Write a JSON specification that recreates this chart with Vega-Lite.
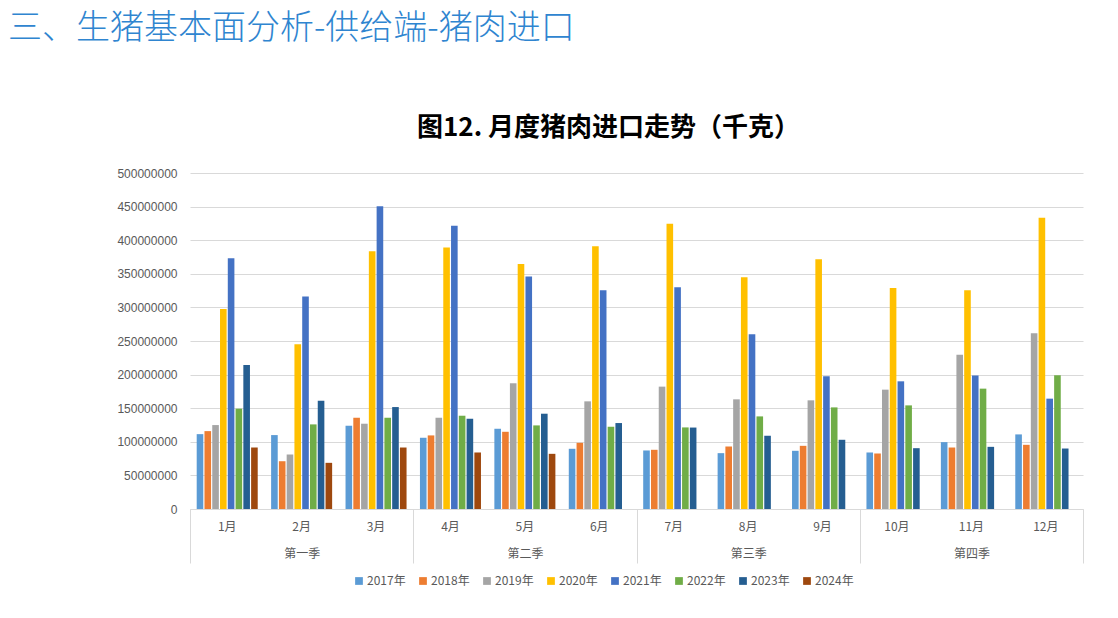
{
  "$schema": "https://vega.github.io/schema/vega-lite/v6.json",
  "width": 893,
  "height": 336,
  "autosize": {"type": "none"},
  "padding": {"left": 190, "top": 173, "right": 35, "bottom": 109},
  "background": "#ffffff",
  "title": {
    "text": "三、生猪基本面分析-供给端-猪肉进口",
    "anchor": "start",
    "frame": "group",
    "dx": -182,
    "offset": 68,
    "font": "Noto Sans CJK SC",
    "fontSize": 34,
    "fontWeight": 300,
    "color": "#2F85D0"
  },
  "config": {
    "view": {"stroke": null},
    "font": "Noto Sans CJK SC"
  },
  "data": {
    "values": [
      {"m":"1月","q":"第一季","y":"2017年","v":111400000},
      {"m":"1月","q":"第一季","y":"2018年","v":115900000},
      {"m":"1月","q":"第一季","y":"2019年","v":124900000},
      {"m":"1月","q":"第一季","y":"2020年","v":297500000},
      {"m":"1月","q":"第一季","y":"2021年","v":373100000},
      {"m":"1月","q":"第一季","y":"2022年","v":149300000},
      {"m":"1月","q":"第一季","y":"2023年","v":214400000},
      {"m":"1月","q":"第一季","y":"2024年","v":91500000},
      {"m":"2月","q":"第一季","y":"2017年","v":110000000},
      {"m":"2月","q":"第一季","y":"2018年","v":71100000},
      {"m":"2月","q":"第一季","y":"2019年","v":81100000},
      {"m":"2月","q":"第一季","y":"2020年","v":245300000},
      {"m":"2月","q":"第一季","y":"2021年","v":316400000},
      {"m":"2月","q":"第一季","y":"2022年","v":125900000},
      {"m":"2月","q":"第一季","y":"2023年","v":161200000},
      {"m":"2月","q":"第一季","y":"2024年","v":68700000},
      {"m":"3月","q":"第一季","y":"2017年","v":123900000},
      {"m":"3月","q":"第一季","y":"2018年","v":135800000},
      {"m":"3月","q":"第一季","y":"2019年","v":126900000},
      {"m":"3月","q":"第一季","y":"2020年","v":383600000},
      {"m":"3月","q":"第一季","y":"2021年","v":450700000},
      {"m":"3月","q":"第一季","y":"2022年","v":135800000},
      {"m":"3月","q":"第一季","y":"2023年","v":151700000},
      {"m":"3月","q":"第一季","y":"2024年","v":91500000},
      {"m":"4月","q":"第二季","y":"2017年","v":106000000},
      {"m":"4月","q":"第二季","y":"2018年","v":109500000},
      {"m":"4月","q":"第二季","y":"2019年","v":135800000},
      {"m":"4月","q":"第二季","y":"2020年","v":389100000},
      {"m":"4月","q":"第二季","y":"2021年","v":421400000},
      {"m":"4月","q":"第二季","y":"2022年","v":138800000},
      {"m":"4月","q":"第二季","y":"2023年","v":134300000},
      {"m":"4月","q":"第二季","y":"2024年","v":84100000},
      {"m":"5月","q":"第二季","y":"2017年","v":119400000},
      {"m":"5月","q":"第二季","y":"2018年","v":114900000},
      {"m":"5月","q":"第二季","y":"2019年","v":187100000},
      {"m":"5月","q":"第二季","y":"2020年","v":364700000},
      {"m":"5月","q":"第二季","y":"2021年","v":345800000},
      {"m":"5月","q":"第二季","y":"2022年","v":124400000},
      {"m":"5月","q":"第二季","y":"2023年","v":141800000},
      {"m":"5月","q":"第二季","y":"2024年","v":82100000},
      {"m":"6月","q":"第二季","y":"2017年","v":89600000},
      {"m":"6月","q":"第二季","y":"2018年","v":98500000},
      {"m":"6月","q":"第二季","y":"2019年","v":160200000},
      {"m":"6月","q":"第二季","y":"2020年","v":391000000},
      {"m":"6月","q":"第二季","y":"2021年","v":325400000},
      {"m":"6月","q":"第二季","y":"2022年","v":122400000},
      {"m":"6月","q":"第二季","y":"2023年","v":127900000},
      {"m":"7月","q":"第三季","y":"2017年","v":87100000},
      {"m":"7月","q":"第三季","y":"2018年","v":88100000},
      {"m":"7月","q":"第三季","y":"2019年","v":182100000},
      {"m":"7月","q":"第三季","y":"2020年","v":424400000},
      {"m":"7月","q":"第三季","y":"2021年","v":329900000},
      {"m":"7月","q":"第三季","y":"2022年","v":121400000},
      {"m":"7月","q":"第三季","y":"2023年","v":121200000},
      {"m":"8月","q":"第三季","y":"2017年","v":83100000},
      {"m":"8月","q":"第三季","y":"2018年","v":93000000},
      {"m":"8月","q":"第三季","y":"2019年","v":163200000},
      {"m":"8月","q":"第三季","y":"2020年","v":344800000},
      {"m":"8月","q":"第三季","y":"2021年","v":260200000},
      {"m":"8月","q":"第三季","y":"2022年","v":137800000},
      {"m":"8月","q":"第三季","y":"2023年","v":109000000},
      {"m":"9月","q":"第三季","y":"2017年","v":86600000},
      {"m":"9月","q":"第三季","y":"2018年","v":94000000},
      {"m":"9月","q":"第三季","y":"2019年","v":161700000},
      {"m":"9月","q":"第三季","y":"2020年","v":371600000},
      {"m":"9月","q":"第三季","y":"2021年","v":197500000},
      {"m":"9月","q":"第三季","y":"2022年","v":151200000},
      {"m":"9月","q":"第三季","y":"2023年","v":103000000},
      {"m":"10月","q":"第四季","y":"2017年","v":84100000},
      {"m":"10月","q":"第四季","y":"2018年","v":82600000},
      {"m":"10月","q":"第四季","y":"2019年","v":177600000},
      {"m":"10月","q":"第四季","y":"2020年","v":328900000},
      {"m":"10月","q":"第四季","y":"2021年","v":190000000},
      {"m":"10月","q":"第四季","y":"2022年","v":154200000},
      {"m":"10月","q":"第四季","y":"2023年","v":90500000},
      {"m":"11月","q":"第四季","y":"2017年","v":99500000},
      {"m":"11月","q":"第四季","y":"2018年","v":91500000},
      {"m":"11月","q":"第四季","y":"2019年","v":229400000},
      {"m":"11月","q":"第四季","y":"2020年","v":325400000},
      {"m":"11月","q":"第四季","y":"2021年","v":198500000},
      {"m":"11月","q":"第四季","y":"2022年","v":179100000},
      {"m":"11月","q":"第四季","y":"2023年","v":92500000},
      {"m":"12月","q":"第四季","y":"2017年","v":111000000},
      {"m":"12月","q":"第四季","y":"2018年","v":95500000},
      {"m":"12月","q":"第四季","y":"2019年","v":261700000},
      {"m":"12月","q":"第四季","y":"2020年","v":433300000},
      {"m":"12月","q":"第四季","y":"2021年","v":164200000},
      {"m":"12月","q":"第四季","y":"2022年","v":199000000},
      {"m":"12月","q":"第四季","y":"2023年","v":90000000}
    ]
  },
  "layer": [
    {
      "mark": {"type": "bar"},
      "encoding": {
        "x": {
          "field": "m",
          "type": "nominal",
          "sort": null,
          "scale": {"type": "band", "paddingInner": 0.18, "paddingOuter": 0.09},
          "axis": {
            "title": null,
            "labelAngle": 0,
            "labelFontSize": 12,
            "labelColor": "#595959",
            "labelPadding": 12,
            "ticks": false,
            "domain": true,
            "domainColor": "#d9d9d9",
            "domainWidth": 1,
            "grid": false
          }
        },
        "xOffset": {
          "field": "y",
          "type": "nominal",
          "sort": null,
          "scale": {"paddingInner": 0.15, "paddingOuter": 0}
        },
        "y": {
          "field": "v",
          "type": "quantitative",
          "scale": {"domain": [0, 500000000], "nice": false},
          "axis": {
            "values": [0, 50000000, 100000000, 150000000, 200000000, 250000000, 300000000, 350000000, 400000000, 450000000, 500000000],
            "format": "d",
            "labelFont": "Liberation Sans",
            "labelFontSize": 12,
            "labelColor": "#595959",
            "labelPadding": 13,
            "domain": false,
            "ticks": false,
            "grid": true,
            "gridColor": "#d9d9d9",
            "gridWidth": 1,
            "title": "图12. 月度猪肉进口走势（千克）",
            "titleAngle": 0,
            "titleX": 418,
            "titleY": -46,
            "titleAlign": "center",
            "titleBaseline": "middle",
            "titleFont": "Noto Sans CJK SC",
            "titleFontSize": 26,
            "titleFontWeight": "bold",
            "titleColor": "#000000"
          }
        },
        "color": {
          "field": "y",
          "type": "nominal",
          "sort": null,
          "scale": {
            "domain": ["2017年","2018年","2019年","2020年","2021年","2022年","2023年","2024年"],
            "range": ["#5B9BD5","#ED7D31","#A5A5A5","#FFC000","#4472C4","#70AD47","#255E91","#9E480E"]
          },
          "legend": {
            "title": null,
            "orient": "none",
            "legendX": 163,
            "legendY": 402,
            "direction": "horizontal",
            "columns": 8,
            "symbolType": "square",
            "symbolSize": 60,
            "symbolStrokeWidth": 0,
            "labelFontSize": 12,
            "labelColor": "#595959",
            "labelOffset": 2,
            "columnPadding": 11
          }
        }
      }
    },
    {
      "mark": {"type": "bar", "opacity": 0},
      "encoding": {
        "x": {
          "field": "q",
          "type": "nominal",
          "sort": null,
          "scale": {"type": "band", "paddingInner": 0, "paddingOuter": 0},
          "axis": {
            "title": null,
            "orient": "bottom",
            "labelAngle": 0,
            "labelFontSize": 12,
            "labelColor": "#595959",
            "ticks": true,
            "tickBand": "extent",
            "tickSize": 54,
            "tickColor": "#d9d9d9",
            "tickWidth": 1,
            "labelPadding": -15,
            "domain": false,
            "grid": false
          }
        }
      }
    }
  ],
  "resolve": {"scale": {"x": "independent"}, "axis": {"x": "independent"}}
}
